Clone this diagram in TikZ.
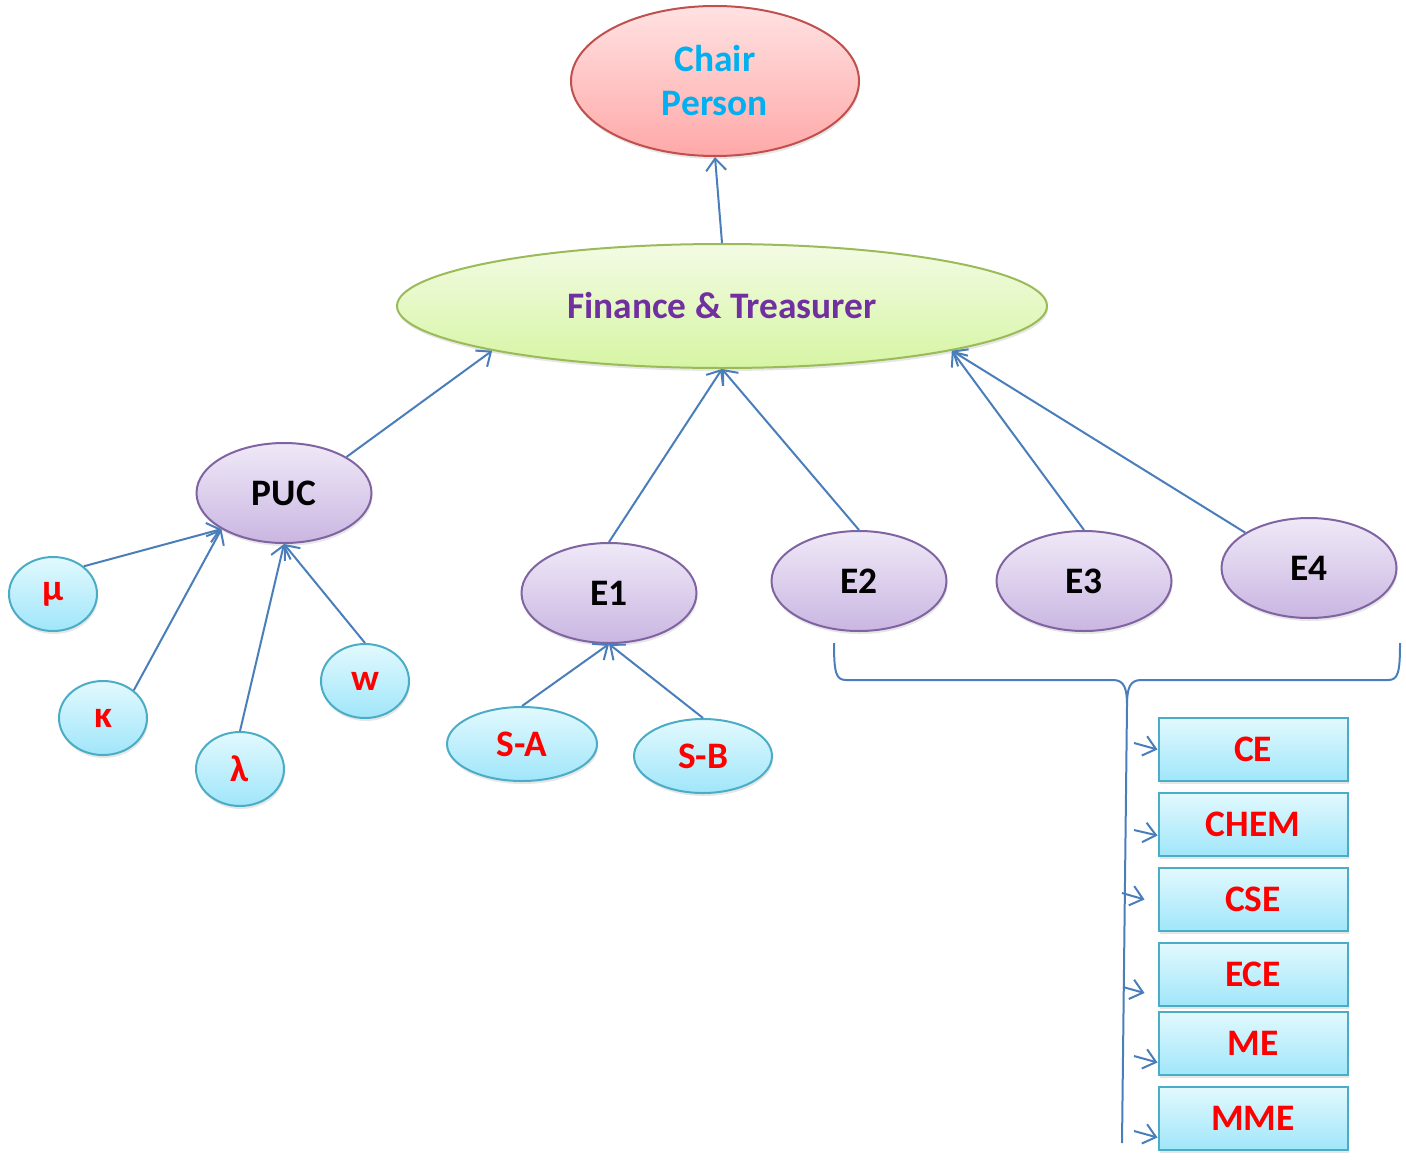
\documentclass[tikz,border=0pt]{standalone}
\usepackage{fontspec}
\setmainfont{Carlito}
\usetikzlibrary{shapes,arrows.meta,shadows,positioning}

\definecolor{linkblue}{HTML}{4A7EBB}
\definecolor{chairline}{HTML}{C0504D}
\definecolor{chairtop}{HTML}{FFE2E2}
\definecolor{chairbot}{HTML}{FFA8A8}
\definecolor{chairtext}{HTML}{00B0F0}
\definecolor{finline}{HTML}{9BBB59}
\definecolor{fintop}{HTML}{F3FBE4}
\definecolor{finbot}{HTML}{D6F5A4}
\definecolor{fintext}{HTML}{7030A0}
\definecolor{memline}{HTML}{8064A2}
\definecolor{memtop}{HTML}{EFE9F7}
\definecolor{membot}{HTML}{CAB6E2}
\definecolor{subline}{HTML}{4BACC6}
\definecolor{subtop}{HTML}{E2F9FE}
\definecolor{subbot}{HTML}{A0E6FA}
\definecolor{subtext}{HTML}{FF0000}

\begin{document}
\begin{tikzpicture}[x=0.5pt,y=-0.5pt]
            % finance committee chart, coordinates in pixels of the sketch
            \tikzstyle{bubble} = [ellipse, inner sep=0pt, line width=1pt,
                font=\fontsize{18.7}{22}\selectfont\bfseries,
                drop shadow={opacity=0.2,shadow xshift=0.5pt,shadow yshift=-1.5pt}];
            \tikzstyle{head} = [bubble, draw=chairline, top color=chairtop, bottom color=chairbot,
                text=chairtext, align=center, minimum width=144pt, minimum height=75pt];
            \tikzstyle{treasury} = [bubble, draw=finline, top color=fintop, bottom color=finbot,
                text=fintext, minimum width=325pt, minimum height=62pt];
            \tikzstyle{member} = [bubble, draw=memline, top color=memtop, bottom color=membot,
                minimum width=87.5pt, minimum height=50pt];
            \tikzstyle{sub} = [bubble, draw=subline, top color=subtop, bottom color=subbot,
                text=subtext, minimum width=44pt, minimum height=37pt];
            \tikzstyle{dept} = [rectangle, draw=subline, line width=1pt, top color=subtop,
                bottom color=subbot, text=subtext, inner sep=0pt,
                font=\fontsize{18.7}{22}\selectfont\bfseries,
                minimum width=94.5pt, minimum height=31.5pt,
                drop shadow={opacity=0.2,shadow xshift=0.5pt,shadow yshift=-1.5pt}];
            \tikzstyle{link} = [draw=linkblue, line width=1pt, -{Straight Barb[length=6pt,width=10pt]}];
            \tikzstyle{brace} = [draw=linkblue, line width=1pt];

            \useasboundingbox (0,0) rectangle (1406,1161);

            \node[head] (chair) at (715,81) {Chair\\Person};
            \node[treasury] (fin) at (722,306) {Finance \& Treasurer};

            \node[member] (puc) at (284,493) {PUC};
            \node[member] (e1) at (609,593) {E1};
            \node[member] (e2) at (859,581) {E2};
            \node[member,right of=e2,node distance=112.5pt] (e3) {E3};
            \node[member] (e4) at (1309,568) {E4};

            \node[sub] (mu) at (53,594) {\raisebox{-2pt}{μ}};
            \node[sub] (kappa) at (103,718) {κ};
            \node[sub] (lambda) at (240,769) {λ};
            \node[sub] (w) at (365,681) {w};
            \node[sub,minimum width=75pt] (sa) at (522,744) {S-A};
            \node[sub,minimum width=69pt] (sb) at (703,756) {S-B};

            \node[dept] (ce) at (1253,749.5) {CE};
            \node[dept,below of=ce,node distance=37.5pt] (chem) {CHEM};
            \node[dept,below of=chem,node distance=37.5pt] (cse) {CSE};
            \node[dept,below of=cse,node distance=37.5pt] (ece) {ECE};
            \node[dept,below of=ece,node distance=34.5pt] (me) {ME};
            \node[dept,below of=me,node distance=37.5pt] (mme) {MME};

            \draw[link] (fin.north) -- (chair.south);
            \draw[link] (puc.30) -- (fin.191);
            \draw[link] (e1.north) -- (fin.south);
            \draw[link] (e2.north) -- (fin.south);
            \draw[link] (e3.north) -- (fin.349);
            \draw[link] (e4.151) -- (fin.349);

            \draw[link] (mu.42) -- (puc.210);
            \draw[link] (kappa.42) -- (puc.210);
            \draw[link] (lambda.north) -- (puc.south);
            \draw[link] (w.north) -- (puc.south);
            \draw[link] (sa.north) -- (e1.south);
            \draw[link] (sb.north) -- (e1.south);

            % brace under E2..E4 and its stem
            \coordinate (tip) at (1127,705);
            \coordinate (stemend) at (1122,1143);
            \draw[brace] (834,643) .. controls (834,673) and (836,680) .. (846,680) -- (1113,680)
                .. controls (1124,680) and (1127,688) .. (tip)
                .. controls (1127,688) and (1130,680) .. (1141,680) -- (1388,680)
                .. controls (1398,680) and (1400,673) .. (1400,643);
            \draw[brace] (tip) -- (stemend);

            \coordinate (to-ce) at (1134,743);
            \coordinate (to-chem) at (1134,830);
            \coordinate (to-cse) at (1122,893);
            \coordinate (to-ece) at (1123,987);
            \coordinate (to-me) at (1134,1056);
            \coordinate (to-mme) at (1134,1131);
            \draw[link] (to-ce) -- (ce.west);
            \draw[link] (to-chem) -- ([yshift=-5.5pt]chem.west);
            \draw[link] (to-cse) -- ([xshift=-6.5pt]cse.west);
            \draw[link] (to-ece) -- ([xshift=-6.5pt,yshift=-9.25pt]ece.west);
            \draw[link] (to-me) -- ([yshift=-9.5pt]me.west);
            \draw[link] (to-mme) -- ([yshift=-9.5pt]mme.west);

        \end{tikzpicture}
\end{document}
